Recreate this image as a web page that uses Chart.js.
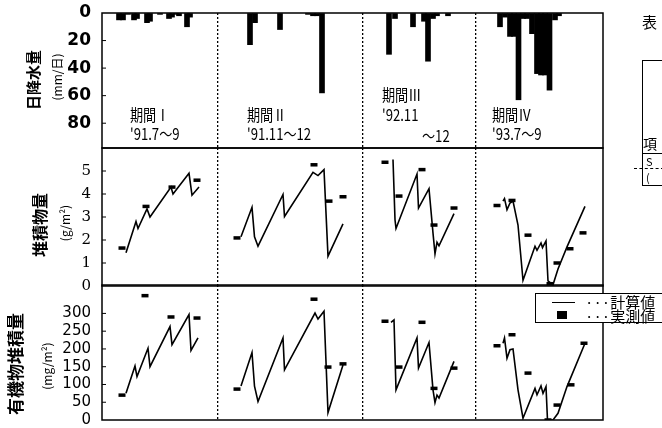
<!DOCTYPE html>
<html>
<head>
<meta charset="utf-8">
<script src="https://cdn.jsdelivr.net/npm/chart.js@4.4.0/dist/chart.umd.min.js"></script>
<style>
body { margin: 0; background: #fff; width: 662px; height: 428px; overflow: hidden; position: relative; font-family: "Noto Sans CJK JP", sans-serif; }
canvas { position: absolute; left: 0; }
.t { position: absolute; white-space: nowrap; color: #000; line-height: 1; z-index: 5; }
.rot { transform: translate(-50%, -50%) rotate(-90deg); }
.cond { transform-origin: 0 0; transform: scaleX(0.82); font-family: "Noto Sans CJK JP", sans-serif; }
</style>
</head>
<body>
<canvas id="rain-chart" width="662" height="160" style="top:0px"></canvas>
<canvas id="sed-chart" width="662" height="160" style="top:138px"></canvas>
<canvas id="org-chart" width="662" height="153" style="top:275px"></canvas>

<!-- axis titles -->
<div class="t rot" style="left:32px;top:80px;font-size:15px;font-weight:bold">日降水量</div>
<div class="t rot" style="left:57px;top:77px;font-size:12px">(mm/日)</div>
<div class="t rot" style="left:39px;top:225px;font-size:16px;font-weight:bold">堆積物量</div>
<div class="t rot" style="left:65px;top:223px;font-size:12px">(g/m²)</div>
<div class="t rot" style="left:14px;top:364px;font-size:17px;font-weight:bold">有機物堆積量</div>
<div class="t rot" style="left:47px;top:366px;font-size:12px">(mg/m²)</div>

<!-- period labels -->
<div class="t cond" style="left:130px;top:106px;font-size:16px">期間Ⅰ</div>
<div class="t cond" style="left:130px;top:125px;font-size:16px">'91.7～9</div>
<div class="t cond" style="left:247px;top:106px;font-size:16px">期間Ⅱ</div>
<div class="t cond" style="left:247px;top:125px;font-size:16px">'91.11～12</div>
<div class="t cond" style="left:382px;top:86px;font-size:16px">期間Ⅲ</div>
<div class="t cond" style="left:382px;top:106px;font-size:16px">'92.11</div>
<div class="t cond" style="left:422px;top:127px;font-size:16px">～12</div>
<div class="t cond" style="left:492px;top:106px;font-size:16px">期間Ⅳ</div>
<div class="t cond" style="left:492px;top:125px;font-size:16px">'93.7～9</div>

<!-- legend -->
<div style="position:absolute;left:535px;top:293px;width:140px;height:28px;border:1px solid #000;background:#fff;z-index:4"></div>
<div style="position:absolute;left:552px;top:302px;width:23px;height:1px;background:#000;z-index:5"></div>
<div style="position:absolute;left:557px;top:311px;width:10px;height:8px;background:#000;z-index:5"></div>
<div class="t" style="left:585px;top:294px;font-size:15px">···計算値</div>
<div class="t" style="left:585px;top:308px;font-size:15px">···実測値</div>

<!-- fragment of the neighbouring table -->
<div class="t" style="left:642px;top:14px;font-size:15px">表</div>
<div style="position:absolute;left:642px;top:60px;width:40px;height:124px;border:1.5px solid #000"></div>
<div style="position:absolute;left:642px;top:153px;width:30px;height:0;border-top:1px solid #000"></div>
<div style="position:absolute;left:634px;top:168px;width:30px;height:0;border-top:1px dashed #000"></div>
<div class="t" style="left:643px;top:136px;font-size:14px">項</div>
<div class="t" style="left:646px;top:156px;font-size:11px">S</div>
<div class="t" style="left:646px;top:172px;font-size:11px">(</div>

<script>
// x positions run along one common time axis (0 .. 501), four periods side by side
const periodBounds = [116, 261, 374];

// daily rainfall, mm/day  [position, mm]
const rainBars = [
    [17, 5], [21, 5], [26, 1], [32, 5], [35, 4], [45, 7], [48, 6], [58, 1], [67, 4], [70, 3], [74, 1], [77, 2], [85, 10], [88, 3],
    [148, 23], [153, 7], [178, 12], [206, 1], [211, 2], [215, 2], [220, 58],
    [287, 30], [293, 4], [311, 10], [322, 6], [326, 35], [331, 4], [335, 2], [346, 2],
    [398, 10], [403, 3], [408, 17], [412, 17], [416.5, 63], [421, 4], [425, 4], [430, 15], [435, 44], [439, 45], [443, 45], [447.5, 56], [453, 5], [457, 2]
];

// sediment amount g/m2 : calculated lines per period and measured values
const sedCalc1 = [[24, 1.45], [34, 2.8], [36, 2.5], [45, 3.35], [48, 3.0], [69, 4.3], [71, 4.0], [87, 4.9], [90, 3.95], [97, 4.3]];
const sedCalc2 = [[139, 2.14], [150, 3.42], [152.5, 2.14], [156, 1.73], [181, 3.98], [182.5, 3.02], [211, 4.94], [216, 4.8], [222, 5.06], [226, 1.3], [241, 2.7]];
const sedCalc3 = [[291, 5.5], [293, 2.88], [294, 2.5], [315, 4.87], [316.5, 3.39], [327, 4.23], [331, 2.3], [333, 1.4], [335, 1.9], [337, 1.75], [352, 3.15]];
const sedCalc4 = [[401, 3.69], [402.5, 3.8], [405, 3.32], [408, 3.61], [411, 3.69], [416, 2.65], [421, 0.25], [433, 1.73], [435, 1.55], [439, 1.87], [440.5, 1.67], [444, 1.96], [446, 0.22], [451, 0.05], [456, 0.74], [465, 1.7], [483, 3.46]];
const sedObs = [
    [20, 1.65], [44, 3.46], [70, 4.3], [95, 4.6],
    [135, 2.09], [212, 5.27], [227, 3.69], [241, 3.88],
    [283, 5.38], [297, 3.91], [320, 5.06], [332, 2.65], [352, 3.39],
    [395, 3.5], [410, 3.72], [426, 2.21], [448, 0.1], [455, 1.0], [468, 1.62], [481, 2.31]
];

// organic matter mg/m2 : calculated lines per period and measured values
const orgCalc1 = [[24, 75], [33, 152], [35, 122], [46, 202], [48, 150], [68, 263], [70, 212], [87, 297], [89, 196], [96, 231]];
const orgCalc2 = [[139, 96], [150, 190], [152.5, 95], [156, 52], [181, 231], [182.5, 141], [213, 301], [216, 284], [222, 306], [226, 21], [241, 155]];
const orgCalc3 = [[289, 275], [292, 282], [294, 85], [315, 231], [316.5, 146], [327, 218], [331, 85], [333, 49], [335, 70], [337, 62], [352, 165]];
const orgCalc4 = [[401, 216], [402.5, 231], [405, 174], [408, 198], [411, 200], [416, 85], [421, 5], [433, 89], [435, 71], [439, 96], [441, 75], [444, 94], [445.5, 0], [451, 0], [456, 19], [465, 94], [483, 216]];
const orgObs = [
    [20, 70], [43, 350], [69, 290], [95, 287],
    [135, 87], [212, 340], [226, 149], [241, 158],
    [283, 278], [297, 149], [320, 275], [332, 89], [352, 146],
    [395, 209], [410, 240], [426, 132], [446, 0], [455, 42], [469, 99], [482, 216]
];

const toXY = arr => arr.map(p => ({ x: p[0], y: p[1] }));

// box around the plot area plus short inward ticks on the y axis
const framePlugin = {
    id: 'frame',
    afterDraw(chart) {
        const { ctx, chartArea: a, scales } = chart;
        ctx.save();
        ctx.strokeStyle = '#000';
        ctx.lineWidth = 1.5;
        ctx.strokeRect(a.left, a.top, a.right - a.left, a.bottom - a.top);
        ctx.lineWidth = 1;
        scales.y.ticks.forEach(t => {
            const y = scales.y.getPixelForValue(t.value);
            if (Math.abs(y - a.top) < 3 || Math.abs(y - a.bottom) < 3) return;
            ctx.beginPath();
            ctx.moveTo(a.left, y);
            ctx.lineTo(a.left + 4, y);
            ctx.stroke();
        });
        ctx.restore();
    }
};

function xScale() {
    return {
        type: 'linear',
        min: 0,
        max: 501,
        offset: false,
        afterBuildTicks: s => { s.ticks = periodBounds.map(v => ({ value: v })); },
        afterFit: s => { s.height = 0; },
        ticks: { display: false },
        grid: { color: '#000', lineWidth: 1.3, drawTicks: false, offset: false },
        border: { display: false, dash: [2, 2] }
    };
}

// ticks.padding would also pad the plot vertically, so the gap to the
// labels comes from an invisible tick mark instead
function yScale(min, max, step, labelMax, reverse, font) {
    return {
        type: 'linear',
        min: min,
        max: max,
        reverse: reverse,
        afterFit: s => { s.width = 102; },
        grid: { drawOnChartArea: false, drawTicks: true, tickLength: 11, tickColor: 'rgba(0,0,0,0)' },
        border: { display: false },
        ticks: {
            color: '#000',
            padding: 0,
            stepSize: step,
            font: font,
            callback: v => (v > labelMax ? '' : v)
        }
    };
}

function makeChart(id, datasets, y, padding) {
    const ctx = document.getElementById(id).getContext('2d');
    return new Chart(ctx, {
        type: 'line',
        data: { datasets: datasets },
        options: {
            responsive: false,
            animation: false,
            devicePixelRatio: 1,
            layout: { padding: padding },
            plugins: { legend: { display: false }, tooltip: { enabled: false } },
            scales: { x: xScale(), y: y }
        },
        plugins: [framePlugin]
    });
}

function calcSet(arr) {
    return { type: 'line', data: toXY(arr), borderColor: '#000', borderWidth: 1.6, pointRadius: 0, tension: 0 };
}

function obsSet(arr) {
    return {
        type: 'line', data: toXY(arr), showLine: false,
        pointStyle: 'line', pointRadius: 3.5, pointBorderWidth: 3.5,
        pointBorderColor: '#000', pointBackgroundColor: '#000'
    };
}

function initCharts() {
    makeChart('rain-chart', [{
        type: 'bar',
        data: toXY(rainBars),
        backgroundColor: '#000',
        barThickness: 5
    }], yScale(0, 98, 20, 80, true, { family: 'DejaVu Sans', size: 17, weight: 'bold', lineHeight: 1 }),
    { left: 0, right: 59, top: 13, bottom: 12 });

    makeChart('sed-chart', [
        calcSet(sedCalc1), calcSet(sedCalc2), calcSet(sedCalc3), calcSet(sedCalc4), obsSet(sedObs)
    ], yScale(0, 6, 1, 5, false, { family: 'DejaVu Serif', size: 15, lineHeight: 1 }),
    { left: 0, right: 59, top: 10, bottom: 12 });

    makeChart('org-chart', [
        calcSet(orgCalc1), calcSet(orgCalc2), calcSet(orgCalc3), calcSet(orgCalc4), obsSet(orgObs)
    ], yScale(0, 380, 50, 300, false, { family: 'DejaVu Sans', size: 15, lineHeight: 1 }),
    { left: 0, right: 59, top: 10, bottom: 8 });
}

initCharts();
</script>
</body>
</html>
